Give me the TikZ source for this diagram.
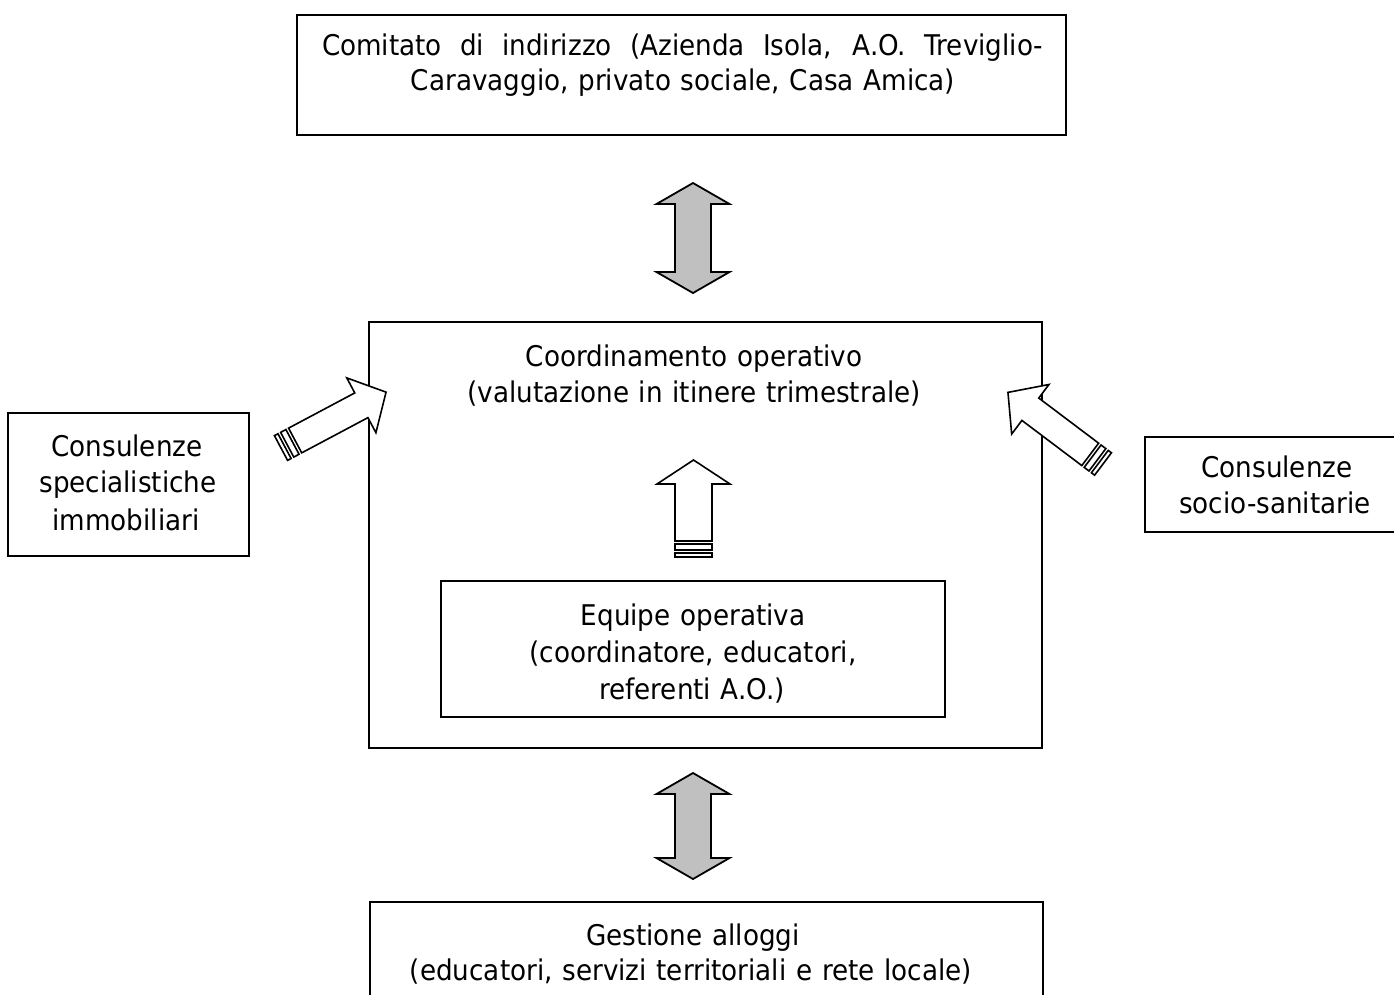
\documentclass[tikz,border=0pt]{standalone}
\usepackage{fontspec}
\setmainfont[FakeStretch=0.92, WordSpace=1.17]{DejaVu Sans}
\definecolor{arrowgrey}{RGB}{192,192,192}
\newcommand{\StripedArrow}[4]{%
  \draw[blockarrow] (0,-#2) rectangle (4,#2);
  \draw[blockarrow] (7,-#2) rectangle (13,#2);
  \draw[blockarrow] (16,-#2) -- ({#1-#4},-#2) -- ({#1-#4},-#3) -- (#1,0) -- ({#1-#4},#3) -- ({#1-#4},#2) -- (16,#2) -- cycle;}
\newcommand{\GreyDoubleArrow}[3]{%
  \draw[greyarrow] (#1,#2) -- ({#1+36.5},{#2+21}) -- ({#1+18},{#2+21}) -- ({#1+18},{#3-21}) -- ({#1+36.5},{#3-21}) -- (#1,#3)
    -- ({#1-36.5},{#3-21}) -- ({#1-18},{#3-21}) -- ({#1-18},{#2+21}) -- ({#1-36.5},{#2+21}) -- cycle;}
\begin{document}
\begin{tikzpicture}[x=1pt,y=-1pt,line width=1.8pt,
  box/.style={draw, rectangle, inner sep=0pt, outer sep=0pt},
  txt/.style={anchor=base, inner sep=0pt, font=\fontsize{28.5}{34}\selectfont},
  blockarrow/.style={draw, fill=white, line join=miter, line width=1.6pt},
  greyarrow/.style={draw, fill=arrowgrey, line join=miter, line width=1.8pt}]
\clip (0,0) rectangle (1394,994);
\fill[white] (0,0) rectangle (1394,994);
% boxes
\node[box, minimum width=769pt, minimum height=120pt] (top) at (681.5,75) {};
\node[box, minimum width=673pt, minimum height=426pt] (mid) at (705.5,535) {};
\node[box, minimum width=504pt, minimum height=136pt] (inner) at (693,649) {};
\node[box, minimum width=673pt, minimum height=110pt] (bottom) at (706.5,957) {};
\node[box, minimum width=241pt, minimum height=143pt] (left) at (128.5,484.5) {};
\node[box, minimum width=255pt, minimum height=95pt] (right) at (1272.5,484.5) {};
% texts
\node[txt] (top1) at (682.5,55) {\makebox[721pt][s]{Comitato di indirizzo (Azienda Isola, A.O. Treviglio-}};
\node[txt] (top2) at (683,90) {Caravaggio, privato sociale, Casa Amica)};
\node[txt] (mid1) at (694,366) {Coordinamento operativo};
\node[txt] (mid2) at (694,402) {(valutazione in itinere trimestrale)};
\node[txt] (in1) at (693,625) {Equipe operativa};
\node[txt] (in2) at (693,662) {(coordinatore, educatori,};
\node[txt] (in3) at (692,699) {referenti A.O.)};
\node[txt] (bot1) at (693,945) {Gestione alloggi};
\node[txt] (bot2) at (691,980) {(educatori, servizi territoriali e rete locale)};
\node[txt] (left1) at (127,456) {Consulenze};
\node[txt] (left2) at (128,492) {specialistiche};
\node[txt] (left3) at (126,530) {immobiliari};
\node[txt] (right1) at (1277,477) {Consulenze};
\node[txt] (right2) at (1275,513) {socio-sanitarie};
% grey double arrows
\GreyDoubleArrow{693}{183}{293}
\GreyDoubleArrow{693}{773}{879}
% striped arrows
\begin{scope}[shift={(693.5,557)}, rotate=90]
  \StripedArrow{97}{18.5}{36.5}{24}
\end{scope}
\begin{scope}[shift={(281,448)}, rotate=28]
  \StripedArrow{119}{14}{31}{28}
\end{scope}
\begin{scope}[shift={(1103,464)}, rotate=143]
  \StripedArrow{119}{14}{31}{28}
\end{scope}
\end{tikzpicture}
\end{document}
